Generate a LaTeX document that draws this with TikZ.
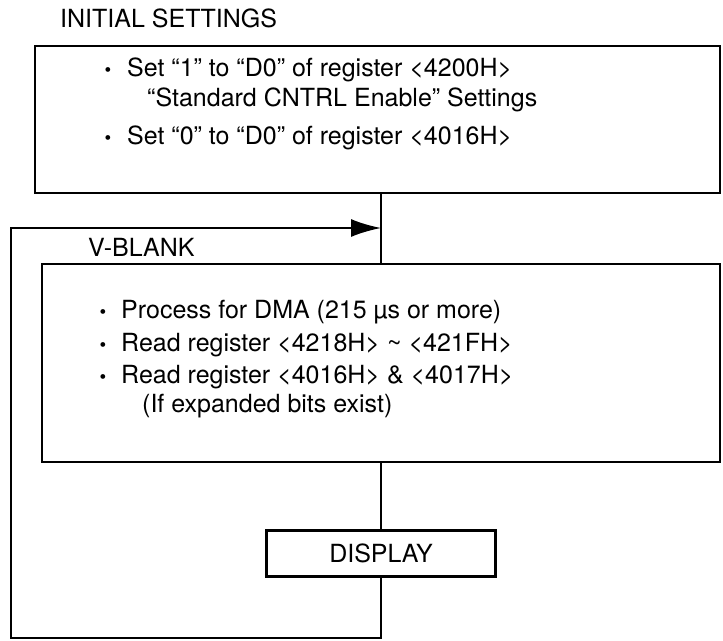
\documentclass[tikz,border=0pt]{standalone}
\usepackage{fontspec}
\setmainfont{TeX Gyre Heros}
\usetikzlibrary{arrows.meta}
\tikzset{
  box/.style={draw, line width=2.6pt, inner sep=0pt, font=\fontsize{25}{31}\selectfont},
  flow/.style={line width=2pt},
  txt/.style={anchor=base west, inner sep=0pt, font=\fontsize{25}{31}\selectfont},
  dot/.style={anchor=base, inner sep=0pt, font=\fontsize{19}{19}\selectfont},
}
\begin{document}
\begin{tikzpicture}[x=1pt, y=-1pt, >={Latex[length=30pt,width=18pt]}]
	\useasboundingbox (0,0) rectangle (723,640);
	% boxes
	\node[box, minimum width=685pt, minimum height=147pt] (init) at (377.5,119.5) {};
	\node[box, minimum width=678pt, minimum height=198pt] (vblank) at (381,363) {};
	\node[box, minimum width=229pt, minimum height=46pt] (disp) at (381,553.5) {DISPLAY};
	\node[txt] (initlbl) at (60,27) {INITIAL SETTINGS};
	\node[txt] (vblanklbl) at (88,256.5) {V-BLANK};
	% lines of text
	\foreach \n/\x/\y/\t in {
			a/127/76/{Set “1” to “D0” of register <4200H>},
			b/147/106/{“Standard CNTRL Enable” Settings},
			c/127/144/{Set “0” to “D0” of register <4016H>},
			d/121/318/{Process for DMA (215 µs or more)},
			e/121/351/{Read register <4218H> \textasciitilde{} <421FH>},
			f/121/383/{Read register <4016H> \& <4017H>},
			g/142/412/{(If expanded bits exist)}
		} {
			\node[txt] (t\n) at (\x,\y) {\t};
		}
	\foreach \n/\x/\y in {a/108/76, c/108/144, d/103/318, e/103/351, f/103/383} {
			\node[dot] (d\n) at (\x,\y) {•};
		}
	% connectors
	\coordinate (lowleft) at (11,638);
	\coordinate (upleft) at (11,228);
	\draw[flow] (init.south -| disp.north) -- (vblank.north -| disp.north);
	\draw[flow] (vblank.south -| disp.north) -- (disp.north);
	\draw[flow, ->] (disp.south) |- (lowleft) -- (upleft) -- (upleft -| disp.north);
\end{tikzpicture}
\end{document}
